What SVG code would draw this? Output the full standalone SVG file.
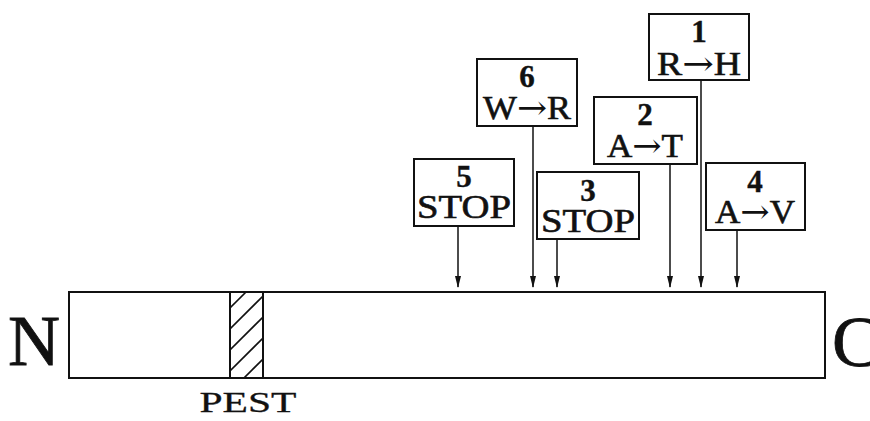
<svg xmlns="http://www.w3.org/2000/svg" width="870" height="421" viewBox="0 0 870 421">
<style>
.box{fill:#fff;stroke:#111;stroke-width:2}
.num{font-family:"Liberation Serif",serif;font-weight:bold;font-size:31px;text-anchor:middle;fill:#111;stroke:#111;stroke-width:0.4}
.lbl{font-family:"Liberation Serif",serif;font-size:33px;text-anchor:middle;fill:#111;stroke:#111;stroke-width:0.6}
.arr{font-family:"DejaVu Serif",serif;stroke:none}
.big{font-family:"Liberation Serif",serif;font-size:72px;fill:#111;stroke:#111;stroke-width:0.8}
.conn line{stroke:#111;stroke-width:1.5}
</style>
<defs>
<marker id="ah" markerWidth="12" markerHeight="6" refX="11" refY="3" orient="auto" markerUnits="userSpaceOnUse" viewBox="0 0 12 6">
<path d="M0,0 L12,3 L0,6 Z" fill="#111"/>
</marker>
<clipPath id="hc"><rect x="230" y="292" width="33" height="86"/></clipPath>
</defs>
<rect width="870" height="421" fill="#fff"/>
<g id="protein">
<rect x="69" y="292" width="756" height="86" fill="#fff" stroke="#111" stroke-width="2"/>
<g clip-path="url(#hc)" stroke="#111" stroke-width="1.6">
<line x1="230" y1="308" x2="263" y2="275"/>
<line x1="230" y1="329" x2="263" y2="296"/>
<line x1="230" y1="350" x2="263" y2="317"/>
<line x1="230" y1="371" x2="263" y2="338"/>
<line x1="230" y1="392" x2="263" y2="359"/>
</g>
<line x1="230" y1="292" x2="230" y2="378" stroke="#111" stroke-width="2"/>
<line x1="263" y1="292" x2="263" y2="378" stroke="#111" stroke-width="2"/>
</g>
<g id="labelN"><text class="big" x="8" y="365">N</text></g>
<g id="labelC"><text class="big" x="832" y="366">C</text></g>
<g id="labelPEST"><text x="248" y="412" font-family="Liberation Serif,serif" font-size="30" text-anchor="middle" textLength="97" lengthAdjust="spacingAndGlyphs" fill="#111" stroke="#111" stroke-width="0.3">PEST</text></g>
<g id="m1"><rect class="box" x="649" y="14" width="100" height="66"/><text class="num" x="699" y="42">1</text><text class="lbl" x="699" y="75" textLength="84" lengthAdjust="spacingAndGlyphs">R<tspan class="arr">→</tspan>H</text></g>
<g id="m6"><rect class="box" x="477" y="59" width="100" height="67"/><text class="num" x="527" y="87">6</text><text class="lbl" x="527" y="119" textLength="88" lengthAdjust="spacingAndGlyphs">W<tspan class="arr">→</tspan>R</text></g>
<g id="m2"><rect class="box" x="594" y="97" width="103" height="67"/><text class="num" x="645" y="125">2</text><text class="lbl" x="645" y="157" textLength="76" lengthAdjust="spacingAndGlyphs">A<tspan class="arr">→</tspan>T</text></g>
<g id="m5"><rect class="box" x="414" y="159" width="100" height="67"/><text class="num" x="464" y="187">5</text><text class="lbl" x="464" y="218" textLength="94" lengthAdjust="spacingAndGlyphs">STOP</text></g>
<g id="m3"><rect class="box" x="537" y="172" width="102" height="67"/><text class="num" x="588" y="201">3</text><text class="lbl" x="588" y="232" textLength="94" lengthAdjust="spacingAndGlyphs">STOP</text></g>
<g id="m4"><rect class="box" x="706" y="163" width="99" height="67"/><text class="num" x="755" y="192">4</text><text class="lbl" x="755" y="223" textLength="80" lengthAdjust="spacingAndGlyphs">A<tspan class="arr">→</tspan>V</text></g>
<g class="conn" id="connectors">
<line x1="458" y1="226" x2="458" y2="287" marker-end="url(#ah)"/>
<line x1="533" y1="126" x2="533" y2="287" marker-end="url(#ah)"/>
<line x1="557" y1="239" x2="557" y2="287" marker-end="url(#ah)"/>
<line x1="670" y1="164" x2="670" y2="287" marker-end="url(#ah)"/>
<line x1="701" y1="80" x2="701" y2="287" marker-end="url(#ah)"/>
<line x1="737" y1="230" x2="737" y2="287" marker-end="url(#ah)"/>
</g>
</svg>
